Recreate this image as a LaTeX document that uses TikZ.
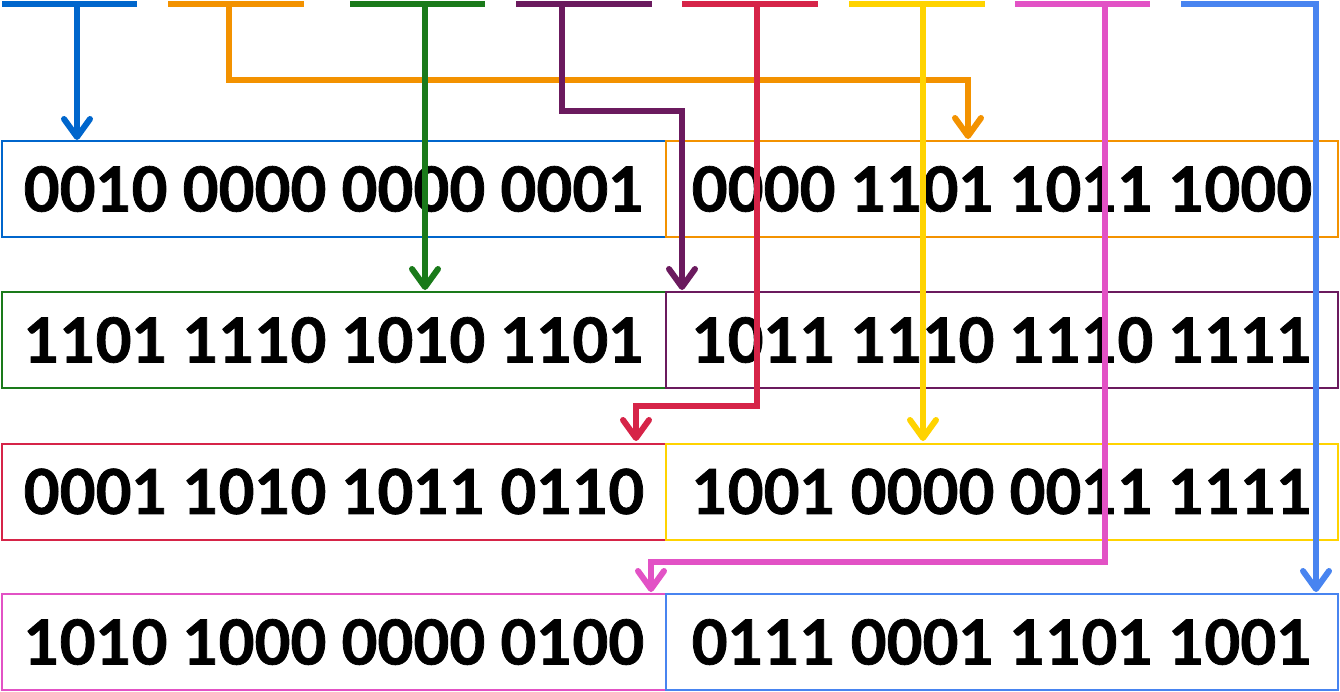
\documentclass[tikz,border=0pt]{standalone}
\usepackage{fontspec}
\setmainfont{Lato}[BoldFeatures={FakeBold=1.2}]
\usetikzlibrary{arrows.meta}
\definecolor{cblue}{RGB}{0,102,204}
\definecolor{corange}{RGB}{243,146,0}
\definecolor{cgreen}{RGB}{26,122,26}
\definecolor{cpurple}{RGB}{107,26,94}
\definecolor{cred}{RGB}{214,36,72}
\definecolor{cyellow}{RGB}{255,211,0}
\definecolor{cpink}{RGB}{226,82,197}
\definecolor{clblue}{RGB}{72,132,240}
\tikzset{
  bar/.style={line width=6pt},
  conn/.style={line width=6pt, -{Straight Barb[length=18pt,width=26pt,line width=6pt,round]}},
  cell/.style={draw, line width=2pt, rectangle, minimum height=96pt, inner sep=0pt,
    font=\fontsize{62}{62}\selectfont\bfseries},
}
\begin{document}
\begin{tikzpicture}[x=1pt,y=-1pt]
\useasboundingbox (0,0) rectangle (1340,691);
% boxes
\node[cell, cblue, text=black, minimum width=664pt] (r1l) at (334,189) {0010 0000 0000 0001};
\node[cell, corange, text=black, minimum width=672pt] (r1r) at (1002,189) {0000 1101 1011 1000};
\node[cell, cgreen, text=black, minimum width=664pt] (r2l) at (334,340) {1101 1110 1010 1101};
\node[cell, cpurple, text=black, minimum width=672pt] (r2r) at (1002,340) {1011 1110 1110 1111};
\node[cell, cred, text=black, minimum width=664pt] (r3l) at (334,491.5) {0001 1010 1011 0110};
\node[cell, cyellow, text=black, minimum width=672pt] (r3r) at (1002,491.5) {1001 0000 0011 1111};
\node[cell, cpink, text=black, minimum width=664pt] (r4l) at (334,642) {1010 1000 0000 0100};
\node[cell, clblue, text=black, minimum width=672pt] (r4r) at (1002,642) {0111 0001 1101 1001};
% bars
\coordinate (b1a) at (2,4);    \coordinate (b1b) at (137,4);  \coordinate (s1) at (77,4);
\coordinate (b2a) at (168,4);  \coordinate (b2b) at (304,4);  \coordinate (s2) at (229,4);
\coordinate (b3a) at (350,4);  \coordinate (b3b) at (485,4);  \coordinate (s3) at (425,4);
\coordinate (b4a) at (516,4);  \coordinate (b4b) at (652,4);  \coordinate (s4) at (562,4);
\coordinate (b5a) at (682,4);  \coordinate (b5b) at (818,4);  \coordinate (s5) at (757,4);
\coordinate (b6a) at (849,4);  \coordinate (b6b) at (985,4);  \coordinate (s6) at (923,4);
\coordinate (b7a) at (1015,4); \coordinate (b7b) at (1150,4); \coordinate (s7) at (1105,4);
\coordinate (b8a) at (1181,4); \coordinate (s8) at (1316,4);
\draw[bar, cblue] (b1a) -- (b1b);
\draw[bar, corange] (b2a) -- (b2b);
\draw[bar, cgreen] (b3a) -- (b3b);
\draw[bar, cpurple] (b4a) -- (b4b);
\draw[bar, cred] (b5a) -- (b5b);
\draw[bar, cyellow] (b6a) -- (b6b);
\draw[bar, cpink] (b7a) -- (b7b);
% connectors
\draw[conn, cblue] (s1) -- (s1 |- r1l.north);
\draw[conn, corange] (s2) -- (229,80) -- (968,80) -- (968,139);
\draw[conn, cpurple] (s4) -- (562,111) -- (682,111) -- (682,290);
\draw[conn, cred] (s5) -- (757,406) -- (636,406) -- (636,441);
\draw[conn, cpink] (s7) -- (1105,562) -- (651,562) -- (651,592);
\draw[conn, clblue] (b8a) -- (s8) -- (1316,592);
\draw[conn, cgreen] (s3) -- (425,290);
\draw[conn, cyellow] (s6) -- (923,441);
\end{tikzpicture}
\end{document}
